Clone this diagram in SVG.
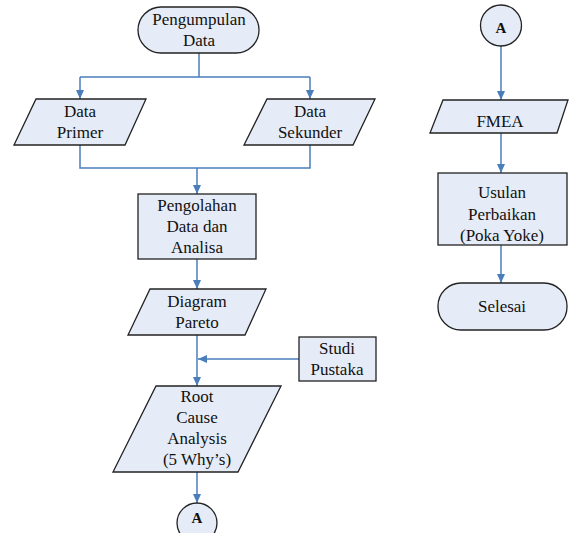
<svg xmlns="http://www.w3.org/2000/svg" width="569" height="533" viewBox="0 0 569 533">
<style>
.s{fill:#e6ecf7;stroke:#222;stroke-width:1.3}
.c{fill:none;stroke:#4a7ebb;stroke-width:1.5}
text{font-family:"Liberation Serif","Times New Roman",serif;font-size:17px;fill:#111;text-anchor:middle}
.a{font-size:15px;font-weight:bold}
</style>
<defs>
<marker id="ah" markerWidth="10" markerHeight="10" refX="9" refY="5" orient="auto" markerUnits="userSpaceOnUse">
<path d="M0,1 L9,5 L0,9 Z" fill="#4a7ebb"/>
</marker>
</defs>
<rect width="569" height="533" fill="#fff"/>
<g id="connectors">
<path class="c" d="M199,53 V77 M80,77 H310"/>
<path class="c" d="M80,77 V99" marker-end="url(#ah)"/>
<path class="c" d="M310,77 V99" marker-end="url(#ah)"/>
<path class="c" d="M80,145 V168 H310 V145"/>
<path class="c" d="M197,168 V194" marker-end="url(#ah)"/>
<path class="c" d="M197,259 V289" marker-end="url(#ah)"/>
<path class="c" d="M197,335 V386" marker-end="url(#ah)"/>
<path class="c" d="M299,359 H198" marker-end="url(#ah)"/>
<path class="c" d="M197,472 V503" marker-end="url(#ah)"/>
<path class="c" d="M501,46 V100" marker-end="url(#ah)"/>
<path class="c" d="M501,133 V173" marker-end="url(#ah)"/>
<path class="c" d="M501,245 V283" marker-end="url(#ah)"/>
</g>
<g id="pengumpulan">
<rect class="s" x="138" y="7" width="121" height="46" rx="23"/>
<text x="199" y="25">Pengumpulan</text>
<text x="199" y="46">Data</text>
</g>
<g id="primer">
<polygon class="s" points="36,99 146,99 125,145 14,145"/>
<text x="80" y="117">Data</text>
<text x="80" y="138">Primer</text>
</g>
<g id="sekunder">
<polygon class="s" points="267,99 375,99 353,145 244,145"/>
<text x="310" y="117">Data</text>
<text x="310" y="138">Sekunder</text>
</g>
<g id="pengolahan">
<rect class="s" x="138" y="194" width="118" height="65"/>
<text x="197" y="211">Pengolahan</text>
<text x="197" y="232">Data dan</text>
<text x="197" y="253">Analisa</text>
</g>
<g id="pareto">
<polygon class="s" points="150,289 266,289 245,335 128,335"/>
<text x="197" y="307">Diagram</text>
<text x="197" y="328">Pareto</text>
</g>
<g id="studi">
<rect class="s" x="299" y="337" width="77" height="44"/>
<text x="337" y="354">Studi</text>
<text x="337" y="375">Pustaka</text>
</g>
<g id="rca">
<polygon class="s" points="156,386 281,386 238,472 113,472"/>
<text x="197" y="402">Root</text>
<text x="197" y="423">Cause</text>
<text x="197" y="444">Analysis</text>
<text x="197" y="465">(5 Why’s)</text>
</g>
<g id="a1">
<circle class="s" cx="197" cy="523" r="20"/>
<text class="a" x="197" y="523">A</text>
</g>
<g id="a2">
<circle class="s" cx="501" cy="25.5" r="20.5"/>
<text class="a" x="501" y="33">A</text>
</g>
<g id="fmea">
<polygon class="s" points="443,100 568,100 557,133 430,133"/>
<text x="500" y="127">FMEA</text>
</g>
<g id="usulan">
<rect class="s" x="438" y="173" width="129" height="72"/>
<text x="502" y="198">Usulan</text>
<text x="502" y="220">Perbaikan</text>
<text x="502" y="241">(Poka Yoke)</text>
</g>
<g id="selesai">
<rect class="s" x="438" y="283" width="129" height="47" rx="23"/>
<text x="502" y="312">Selesai</text>
</g>
</svg>
